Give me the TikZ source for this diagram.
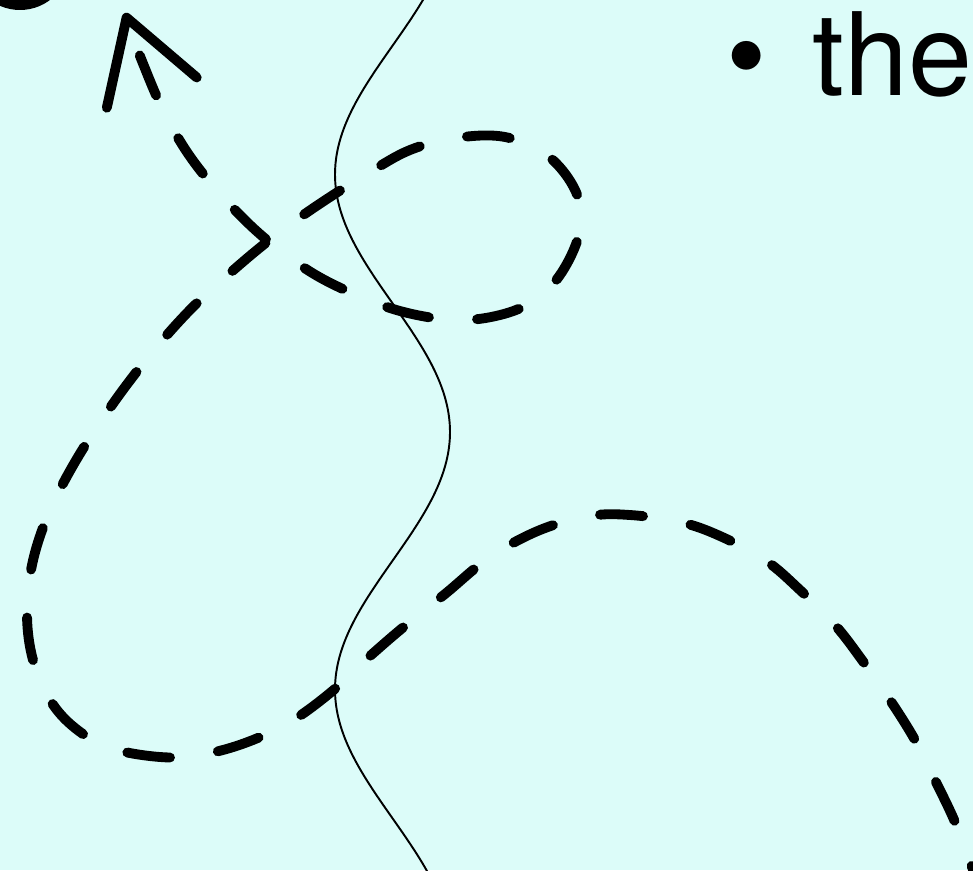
\documentclass[tikz,border=0pt]{standalone}
\usepackage{fontspec}
\setmainfont{TeX Gyre Heros}
\usepackage{xcolor}
\definecolor{slidecyan}{RGB}{220,252,249}
\usetikzlibrary{arrows.meta}

\begin{document}
\begin{tikzpicture}[x=0.02cm, y=-0.02cm,
    trail/.style={line width=5.6pt, line cap=round, line join=round, dash pattern=on 24.5pt off 27.5pt, dash phase=32pt},
    wave/.style={line width=1.1pt}]
  % background and frame
  \fill[slidecyan] (0,0) rectangle (973,870);
  \useasboundingbox (0,0) rectangle (973,870);
  \clip (0,0) rectangle (973,870);
  % cut-off glyph, top left
  \fill (20,-40) circle [radius=1cm];
  % thin wavy line
  \draw[wave] plot[domain=-20:890, samples=120, smooth] ({392.5+57.5*cos(0.699*(\x-432))}, \x);
  % dashed trail ending in the open arrow
  \coordinate (tip) at (125,13);
  \draw[trail, {Straight Barb[length=45pt, width=54pt, round]}-] plot[smooth, tension=0.6] coordinates {
    (tip) (144,66) (168,120) (200,170) (250,225) (300,265) (345,290) (400,311)
    (455,320) (500,315) (535,300) (562,272) (580,230) (576,192) (548,156)
    (505,137) (455,138) (410,150) (370,172) (330,197) (292,223) (257,250)
    (220,282) (187,313) (150,355) (112,405) (75,462) (48,515) (32,565)
    (27,615) (33,660) (50,700) (75,728) (110,748) (160,757) (200,755)
    (245,743) (290,722) (330,693) (360,665) (400,630) (445,594) (490,557)
    (540,530) (590,516) (630,515) (680,522) (720,536) (765,560) (800,590)
    (835,625) (862,660) (890,700) (915,740) (935,780) (955,822) (972,867)
    (990,910)};
  % bullet item
  \node[anchor=base west, inner sep=0pt, font=\fontsize{65.5}{70}\selectfont] (item) at (726,95) {\textbullet\hspace{0.4em}the};
\end{tikzpicture}
\end{document}
